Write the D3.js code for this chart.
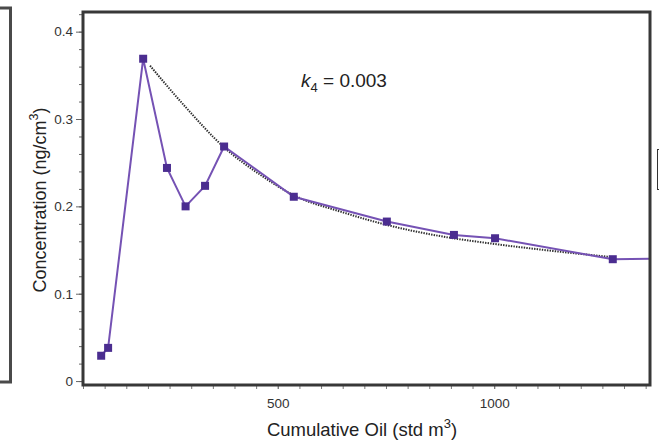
<!DOCTYPE html>
<html>
<head>
<meta charset="utf-8">
<script src="https://cdn.jsdelivr.net/npm/d3@7"></script>
<style>
  html, body { margin: 0; padding: 0; background: #fff; }
  svg { display: block; }
  text { font-family: "Liberation Sans", Arial, sans-serif; }
</style>
</head>
<body>
<svg id="chart" width="659" height="443"></svg>
<script>
// ---- data ----
const oilVolume = [92, 108, 189, 244, 287, 332, 376, 537, 752, 907, 1002, 1274, 1420];
const concentration = [0.029, 0.038, 0.369, 0.244, 0.200, 0.2235, 0.2685, 0.211, 0.1826, 0.1673, 0.1635, 0.1395, 0.1405];
const fitVolume = [205, 290, 375, 460, 540, 645, 750, 875, 1000, 1135, 1270];
const fitConcentration = [0.361, 0.312, 0.268, 0.236, 0.212, 0.194, 0.179, 0.166, 0.157, 0.149, 0.142];
const yMajorTicks = [0, 0.1, 0.2, 0.3, 0.4];
const yTickLabels = ["0", "0.1", "0.2", "0.3", "0.4"];
const xMajorTicks = [500, 1000];
const xTickLabels = ["500", "1000"];

// ---- layout ----
const svg = d3.select("#chart");
const L = 83, T = 12, R = 650, B = 385;
const x = d3.scaleLinear().domain([50, 1360]).range([L, R]);
const y = d3.scaleLinear().domain([-0.0045, 0.4225]).range([B, T]);

// left neighbouring panel fragment
svg.append("rect").attr("x", -20).attr("y", 8).attr("width", 30.5).attr("height", 374)
  .attr("fill", "none").attr("stroke", "#4a4a4a").attr("stroke-width", 3);
// right neighbouring small box fragment
svg.append("rect").attr("x", 657.5).attr("y", 149.5).attr("width", 20).attr("height", 40)
  .attr("fill", "none").attr("stroke", "#333").attr("stroke-width", 1);

svg.append("defs").append("clipPath").attr("id", "clip")
  .append("rect").attr("x", L).attr("y", T).attr("width", R - L).attr("height", B - T);

// minor ticks
const yMinor = d3.range(0, 0.421, 0.02);
const xMinor = d3.range(50, 1360, 50);
svg.append("g").attr("transform", `translate(${L},0)`)
  .call(d3.axisLeft(y).tickValues(yMinor).tickSize(4).tickFormat(""))
  .call(g => { g.select(".domain").remove(); g.selectAll("line").attr("stroke", "#666"); });
svg.append("g").attr("transform", `translate(0,${B})`)
  .call(d3.axisBottom(x).tickValues(xMinor).tickSize(4).tickFormat(""))
  .call(g => { g.select(".domain").remove(); g.selectAll("line").attr("stroke", "#777"); });

// major ticks
svg.append("g").attr("transform", `translate(${L},0)`)
  .call(d3.axisLeft(y).tickValues(yMajorTicks).tickSize(7).tickPadding(3)
    .tickFormat((d, i) => yTickLabels[i]))
  .call(g => {
    g.select(".domain").remove();
    g.selectAll("line").attr("stroke", "#666");
    g.selectAll("text").attr("font-size", 13.5).attr("fill", "#333")
      .attr("font-family", "Liberation Sans, Arial, sans-serif");
  });
svg.append("g").attr("transform", `translate(0,${B})`)
  .call(d3.axisBottom(x).tickValues(xMajorTicks).tickSize(4).tickPadding(9)
    .tickFormat((d, i) => xTickLabels[i]))
  .call(g => {
    g.select(".domain").remove();
    g.selectAll("line").attr("stroke", "#777");
    g.selectAll("text").attr("font-size", 13.5).attr("fill", "#333")
      .attr("font-family", "Liberation Sans, Arial, sans-serif");
  });

// fit curve (dotted)
const fitData = fitVolume.map((v, i) => [v, fitConcentration[i]]);
svg.append("path").datum(fitData)
  .attr("clip-path", "url(#clip)")
  .attr("fill", "none").attr("stroke", "#2e2e2e").attr("stroke-width", 2)
  .attr("stroke-dasharray", "1.4,1.2")
  .attr("d", d3.line().x(d => x(d[0])).y(d => y(d[1])).curve(d3.curveMonotoneX));

// measured series
const data = oilVolume.map((v, i) => [v, concentration[i]]);
svg.append("path").datum(data)
  .attr("clip-path", "url(#clip)")
  .attr("fill", "none").attr("stroke", "#7552b4").attr("stroke-width", 2)
  .attr("d", d3.line().x(d => x(d[0])).y(d => y(d[1])));
svg.append("g").attr("clip-path", "url(#clip)")
  .selectAll("rect").data(data).join("rect")
  .attr("x", d => x(d[0]) - 4).attr("y", d => y(d[1]) - 4)
  .attr("width", 8).attr("height", 8).attr("fill", "#4b2d90");

// frame
svg.append("rect").attr("x", L).attr("y", T).attr("width", R - L).attr("height", B - T)
  .attr("fill", "none").attr("stroke", "#383838").attr("stroke-width", 3);

// annotation
const ann = svg.append("text").attr("x", 301).attr("y", 87).attr("font-size", 19).attr("fill", "#222");
ann.append("tspan").attr("font-style", "italic").text("k");
ann.append("tspan").attr("font-size", 13).attr("dy", 5).text("4");
ann.append("tspan").attr("dy", -5).text(" = 0.003");

// axis titles
const yt = svg.append("text").attr("transform", `translate(46,200) rotate(-90)`)
  .attr("text-anchor", "middle").attr("font-size", 18).attr("fill", "#222");
yt.append("tspan").text("Concentration (ng/cm");
yt.append("tspan").attr("font-size", 12.5).attr("dy", -8).text("3");
yt.append("tspan").attr("dy", 8).text(")");

const xt = svg.append("text").attr("x", 362).attr("y", 436)
  .attr("text-anchor", "middle").attr("font-size", 18.5).attr("fill", "#222");
xt.append("tspan").text("Cumulative Oil (std m");
xt.append("tspan").attr("font-size", 13).attr("dy", -8).text("3");
xt.append("tspan").attr("dy", 8).text(")");
</script>
</body>
</html>
